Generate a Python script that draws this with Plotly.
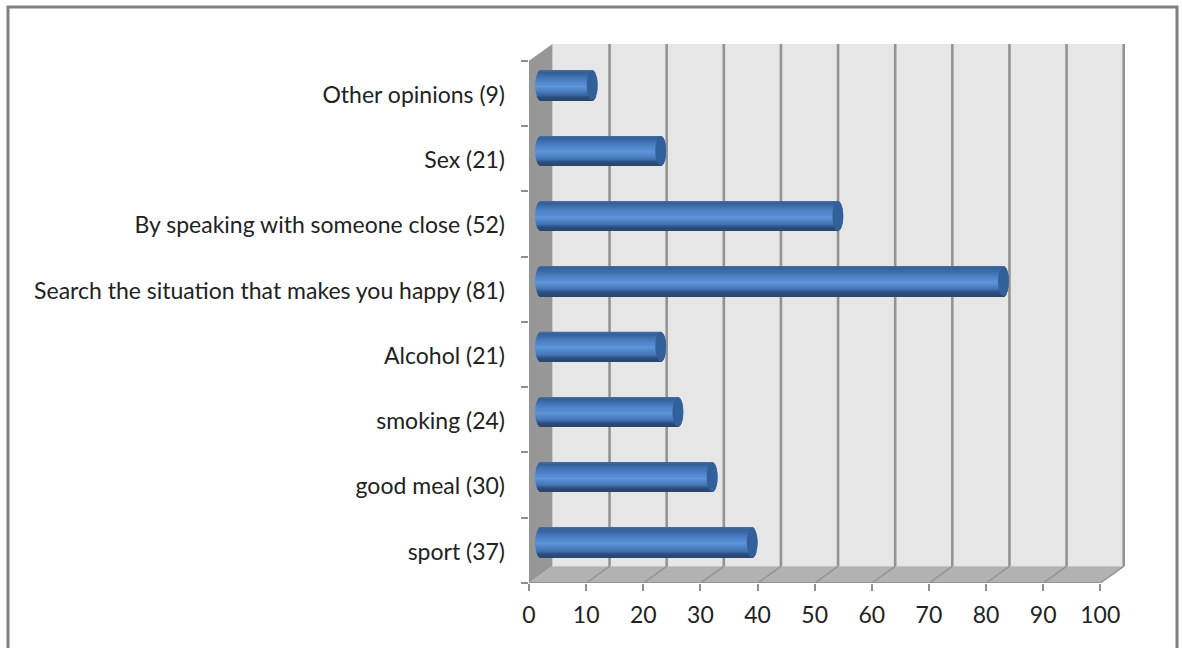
import math
import plotly.graph_objects as go

# Survey answers, listed from the bottom of the chart upward
categories = ["sport", "good meal", "smoking", "Alcohol",
              "Search the situation that makes you happy",
              "By speaking with someone close", "Sex", "Other opinions"]
values = [37, 30, 24, 21, 81, 52, 21, 9]
x_ticks = [0, 10, 20, 30, 40, 50, 60, 70, 80, 90, 100]

tick_labels = [f"{c} ({v})" for c, v in zip(categories, values)]
positions = list(range(len(categories)))

# Fake 3D depth, expressed in axis units
DEPTH_X = 4.1
DEPTH_Y = 0.255
BAR_BASE = DEPTH_X / 2
BAR_LIFT = 0.12
BAR_THICK = 0.45
CAP_HALF = 0.95
LABEL_DROP = 0.02
y_low, y_high = -0.5, len(categories) - 0.5

# Vertical shading of the cylinders, top to bottom
shade_stops = [(0.0, (70, 112, 164)), (0.08, (52, 96, 152)), (0.30, (72, 124, 192)),
               (0.55, (94, 148, 218)), (0.78, (68, 118, 182)), (0.90, (42, 78, 128)),
               (1.0, (44, 68, 104))]
STRIPES = 28


def shade(t):
    for (t0, c0), (t1, c1) in zip(shade_stops, shade_stops[1:]):
        if t <= t1:
            f = (t - t0) / (t1 - t0)
            return "rgb({},{},{})".format(*[round(a + (b - a) * f) for a, b in zip(c0, c1)])
    return "rgb({},{},{})".format(*shade_stops[-1][1])


fig = go.Figure()

# Each cylinder is a stack of thin bars that follow the elliptical ends
for s in range(STRIPES):
    t = (s + 0.5) / STRIPES
    offset = BAR_THICK * (0.5 - t)
    bulge = CAP_HALF * math.sqrt(max(0.0, 1 - (2 * t - 1) ** 2))
    fig.add_trace(go.Bar(
        orientation="h",
        y=[p + BAR_LIFT + offset for p in positions],
        x=[v + bulge * 2 for v in values],
        base=BAR_BASE - bulge,
        width=BAR_THICK / STRIPES * 1.15,
        marker=dict(color=shade(t), line=dict(width=0)),
        hoverinfo="skip",
        showlegend=False,
    ))

shapes = []
WALL_LINE = "#939393"

# Back wall, side wall and floor
shapes.append(dict(type="rect", layer="below", xref="x", yref="y", x0=DEPTH_X, x1=100 + DEPTH_X,
                   y0=y_low + DEPTH_Y, y1=y_high + DEPTH_Y,
                   fillcolor="#e6e6e6", line=dict(width=0)))
shapes.append(dict(type="path", layer="below", xref="x", yref="y",
                   path=f"M0,{y_low} L{DEPTH_X},{y_low + DEPTH_Y} L{DEPTH_X},{y_high + DEPTH_Y} L0,{y_high} Z",
                   fillcolor="#979797", line=dict(width=0)))
shapes.append(dict(type="path", layer="below", xref="x", yref="y",
                   path=f"M0,{y_low} L{DEPTH_X},{y_low + DEPTH_Y} L{100 + DEPTH_X},{y_low + DEPTH_Y} L100,{y_low} Z",
                   fillcolor="#b2b2b2", line=dict(width=0)))

# Gridlines run up the back wall and forward across the floor
for v in x_ticks[1:]:
    shapes.append(dict(type="line", layer="below", xref="x", yref="y",
                       x0=v + DEPTH_X, x1=v + DEPTH_X, y0=y_low + DEPTH_Y, y1=y_high + DEPTH_Y,
                       line=dict(color=WALL_LINE, width=2.6)))
    shapes.append(dict(type="line", layer="below", xref="x", yref="y",
                       x0=v, x1=v + DEPTH_X, y0=y_low, y1=y_low + DEPTH_Y,
                       line=dict(color=WALL_LINE, width=1.5)))
shapes.append(dict(type="line", layer="below", xref="x", yref="y", x0=0, x1=100, y0=y_low, y1=y_low,
                   line=dict(color=WALL_LINE, width=1.8)))
shapes.append(dict(type="line", layer="below", xref="x", yref="y", x0=0, x1=0, y0=y_low, y1=y_high,
                   line=dict(color=WALL_LINE, width=1.8)))

# Dark end cap of every cylinder
for p, v in zip(positions, values):
    cx = BAR_BASE + v
    cy = p + BAR_LIFT
    shapes.append(dict(type="circle", layer="above", xref="x", yref="y",
                       x0=cx - CAP_HALF, x1=cx + CAP_HALF,
                       y0=cy - BAR_THICK / 2, y1=cy + BAR_THICK / 2,
                       fillcolor="#31609a", line=dict(width=0)))

# Outer frame; its lower edge falls just below the page
W, H = 1182, 648
ML, MR, MT, MB = 529, 57, 44, 65
plot_w, plot_h = W - ML - MR, H - MT - MB
px = lambda v: (v - ML) / plot_w
py = lambda v: (H - MB - v) / plot_h
shapes.append(dict(type="rect", layer="above", xref="paper", yref="paper",
                   x0=px(8), x1=px(1177), y0=py(7), y1=py(668),
                   fillcolor="rgba(0,0,0,0)", line=dict(color="#808080", width=3)))

label_font = dict(family="Lato", size=23, color="#222222")

fig.update_layout(
    width=W, height=H,
    margin=dict(l=ML, r=MR, t=MT, b=MB, pad=0, autoexpand=False),
    paper_bgcolor="white", plot_bgcolor="white",
    barmode="overlay",
    showlegend=False,
    shapes=shapes,
    xaxis=dict(range=[0, (W - MR - ML) / 5.713], tickmode="array", tickvals=x_ticks,
               ticktext=[str(v) for v in x_ticks], ticks="outside", ticklen=7, tickwidth=2,
               tickcolor="#8f8f8f", showgrid=False, zeroline=False, showline=False,
               tickfont=label_font, fixedrange=True, ticklabelstandoff=4),
    yaxis=dict(range=[y_low, y_high + DEPTH_Y], tickmode="array",
               tickvals=[p - LABEL_DROP for p in positions],
               ticktext=tick_labels, ticks="", showgrid=False, zeroline=False, showline=False,
               tickfont=label_font, fixedrange=True, ticklabelstandoff=23,
               minor=dict(tickmode="array",
                          tickvals=[p - 0.5 for p in positions] + [y_high],
                          ticks="outside", ticklen=7, tickwidth=2, tickcolor="#8f8f8f",
                          showgrid=False)),
)

fig.write_html("out.html")
